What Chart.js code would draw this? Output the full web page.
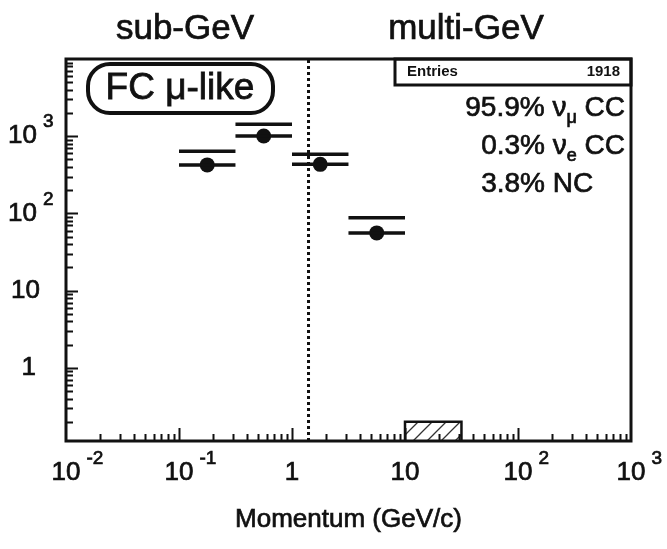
<!DOCTYPE html>
<html>
<head>
<meta charset="utf-8">
<script src="https://cdn.jsdelivr.net/npm/chart.js@4.4.0/dist/chart.umd.min.js"></script>
<style>
  html, body { margin: 0; padding: 0; background: #fff; }
</style>
</head>
<body>
<canvas id="myChart" width="667" height="549"></canvas>
<script>
// momentum bins (GeV/c), half a decade each
var binLow  = [0.1, 0.316, 1.0, 3.16];
var binHigh = [0.316, 1.0, 3.16, 10.0];
var dataCounts = [425, 1005, 432, 56];
var mcCounts   = [640, 1430, 585, 88];
// single filled bin above 10 GeV/c
var emptyBin   = [10.0, 31.6];
var emptyValue = 0.2;
var splitMomentum = 1.4;
var xTickPowers = [-2, -1, 0, 1, 2, 3];
var yTickPowers = [0, 1, 2, 3];
var fractionLabels = ['95.9%', '0.3%', '3.8%'];
var entries = 1918;

var X_MIN = 0.01, X_MAX = 1000, Y_MIN = 0.113, Y_MAX = 10000;
var INK = '#111';
var FONT = '"Liberation Sans", Arial, Helvetica, sans-serif';

function segments(values) {
  var pts = [];
  for (var i = 0; i < values.length; i++) {
    pts.push({x: binLow[i], y: values[i]});
    pts.push({x: binHigh[i], y: values[i]});
    pts.push({x: binHigh[i], y: null});
  }
  return pts;
}

function centres() {
  var pts = [];
  for (var i = 0; i < dataCounts.length; i++) {
    pts.push({x: Math.sqrt(binLow[i] * binHigh[i]), y: dataCounts[i]});
  }
  return pts;
}

function hatchPattern() {
  var c = document.createElement('canvas');
  c.width = 14; c.height = 14;
  var g = c.getContext('2d');
  g.strokeStyle = '#333';
  g.lineWidth = 1.3;
  g.beginPath();
  g.moveTo(0, 14); g.lineTo(14, 0);
  g.moveTo(-7, 7); g.lineTo(7, -7);
  g.moveTo(7, 21); g.lineTo(21, 7);
  g.stroke();
  return g.createPattern(c, 'repeat');
}

function font(size, bold) {
  return (bold ? 'bold ' : '') + size + 'px ' + FONT;
}

// filled text with a thin outline so the glyphs read a little heavier
function ink(ctx, t, x, y) {
  ctx.fillText(t, x, y);
  ctx.strokeText(t, x, y);
}

// "10" with a raised exponent
function drawPower(ctx, p, x, y, align) {
  ctx.textBaseline = 'middle';
  ctx.lineWidth = 0.7;
  if (p === 0 || p === 1) {
    ctx.font = font(26);
    ctx.textAlign = align;
    ink(ctx, p === 0 ? '1' : '10', x, y);
    return;
  }
  ctx.font = font(26);
  var w = ctx.measureText('10').width;
  var left = align === 'center' ? x - w / 2 : x - w;
  ctx.textAlign = 'left';
  ink(ctx, '10', left, y);
  ctx.font = font(19);
  ink(ctx, String(p), left + w + 6, y - 14);
}

// text pieces with optional subscripts, drawn left to right
function drawRich(ctx, parts, x, y, align) {
  var total = 0, i;
  for (i = 0; i < parts.length; i++) {
    ctx.font = font(parts[i].size);
    parts[i].w = ctx.measureText(parts[i].t).width;
    total += parts[i].w;
  }
  var cx = align === 'right' ? x - total : x;
  var start = cx;
  ctx.textAlign = 'left';
  ctx.textBaseline = 'middle';
  ctx.lineWidth = 0.7;
  for (i = 0; i < parts.length; i++) {
    ctx.font = font(parts[i].size);
    ink(ctx, parts[i].t, cx, y + (parts[i].dy || 0));
    cx += parts[i].w;
  }
  return start;
}

function roundRect(ctx, x, y, w, h, r) {
  ctx.beginPath();
  ctx.moveTo(x + r, y);
  ctx.lineTo(x + w - r, y);
  ctx.arcTo(x + w, y, x + w, y + r, r);
  ctx.lineTo(x + w, y + h - r);
  ctx.arcTo(x + w, y + h, x + w - r, y + h, r);
  ctx.lineTo(x + r, y + h);
  ctx.arcTo(x, y + h, x, y + h - r, r);
  ctx.lineTo(x, y + r);
  ctx.arcTo(x, y, x + r, y, r);
  ctx.closePath();
}

var framePlugin = {
  id: 'frame',
  afterDraw: function (chart) {
    var ctx = chart.ctx;
    var xs = chart.scales.x, ys = chart.scales.y;
    var a = chart.chartArea;
    ctx.save();
    ctx.fillStyle = INK;
    ctx.strokeStyle = INK;

    // inward ticks on the left and bottom axes
    ctx.lineWidth = 2;
    ctx.beginPath();
    var d, k, v, px;
    for (d = -1; d <= 3; d++) {
      for (k = 1; k <= 9; k++) {
        v = k * Math.pow(10, d);
        if (v < Y_MIN || v > Y_MAX) continue;
        px = Math.round(ys.getPixelForValue(v)) + 0.5;
        ctx.moveTo(a.left, px);
        ctx.lineTo(a.left + (k === 1 ? 12 : 7), px);
      }
    }
    for (d = -2; d <= 2; d++) {
      for (k = 1; k <= 9; k++) {
        v = k * Math.pow(10, d);
        if (v <= X_MIN || v >= X_MAX) continue;
        px = Math.round(xs.getPixelForValue(v)) + 0.5;
        ctx.moveTo(px, a.bottom);
        ctx.lineTo(px, a.bottom - (k === 1 ? 13 : 7));
      }
    }
    ctx.stroke();

    // frame
    ctx.lineWidth = 3;
    ctx.strokeRect(a.left, a.top, a.right - a.left, a.bottom - a.top);

    // axis labels
    xTickPowers.forEach(function (p) {
      drawPower(ctx, p, xs.getPixelForValue(Math.pow(10, p)), 473, 'center');
    });
    yTickPowers.forEach(function (p) {
      var y = ys.getPixelForValue(Math.pow(10, p));
      drawPower(ctx, p, p === 0 ? 36 : (p === 1 ? 40 : 37), y, 'right');
    });
    ctx.font = font(26);
    ctx.textAlign = 'center';
    ctx.textBaseline = 'middle';
    ctx.lineWidth = 0.7;
    ink(ctx, 'Momentum (GeV/c)', (a.left + a.right) / 2, 520);

    // region names above the frame
    ctx.font = font(35);
    ink(ctx, 'sub-GeV', 185, 29);
    ink(ctx, 'multi-GeV', 466, 29);

    // sample tag
    ctx.lineWidth = 4;
    roundRect(ctx, 88, 64, 185, 49, 22);
    ctx.stroke();
    ctx.font = font(37);
    ctx.lineWidth = 0.8;
    ink(ctx, 'FC \u03bc-like', 180, 89);

    // entries box
    ctx.lineWidth = 3;
    ctx.strokeRect(395, a.top, a.right - 395, 26);
    ctx.font = font(15, true);
    ctx.textAlign = 'left';
    ctx.fillText('Entries', 407, a.top + 13);
    ctx.textAlign = 'right';
    ctx.fillText(String(entries), a.right - 11, a.top + 13);

    // interaction fractions
    var rx = a.right - 6;
    drawRich(ctx, [{t: fractionLabels[0] + ' \u03bd', size: 28},
                   {t: '\u03bc', size: 18, dy: 10},
                   {t: ' CC', size: 28}], rx, 108, 'right');
    var l2 = drawRich(ctx, [{t: fractionLabels[1] + ' \u03bd', size: 28},
                            {t: 'e', size: 18, dy: 10},
                            {t: ' CC', size: 28}], rx, 146, 'right');
    drawRich(ctx, [{t: fractionLabels[2] + ' NC', size: 28}], l2, 184, 'left');
    ctx.restore();
  }
};

var ctx = document.getElementById('myChart');
var myChart = new Chart(ctx, {
  type: 'line',
  data: {
    datasets: [
      {
        label: 'no-oscillation expectation',
        data: segments(mcCounts),
        borderColor: INK,
        borderWidth: 3.5,
        pointRadius: 0,
        spanGaps: false
      },
      {
        label: 'data',
        data: segments(dataCounts),
        borderColor: INK,
        borderWidth: 3.5,
        pointRadius: 0,
        spanGaps: false
      },
      {
        label: 'data points',
        data: centres(),
        showLine: false,
        pointRadius: 7.5,
        pointBackgroundColor: INK,
        pointBorderColor: INK,
        pointBorderWidth: 0
      },
      {
        label: 'high momentum bin',
        data: [{x: emptyBin[0], y: Y_MIN}, {x: emptyBin[0], y: emptyValue},
               {x: emptyBin[1], y: emptyValue}, {x: emptyBin[1], y: Y_MIN}],
        borderColor: INK,
        borderWidth: 2.5,
        pointRadius: 0,
        fill: 'start',
        backgroundColor: hatchPattern()
      },
      {
        label: 'sub/multi-GeV boundary',
        data: [{x: splitMomentum, y: Y_MIN}, {x: splitMomentum, y: Y_MAX}],
        borderColor: INK,
        borderWidth: 3,
        borderDash: [3, 3],
        pointRadius: 0
      }
    ]
  },
  options: {
    responsive: false,
    animation: false,
    layout: { padding: { left: 66, right: 36, top: 59, bottom: 108 } },
    plugins: { legend: { display: false }, tooltip: { enabled: false } },
    scales: {
      x: { type: 'logarithmic', min: X_MIN, max: X_MAX, display: false },
      y: { type: 'logarithmic', min: Y_MIN, max: Y_MAX, display: false }
    }
  },
  plugins: [framePlugin]
});
</script>
</body>
</html>
